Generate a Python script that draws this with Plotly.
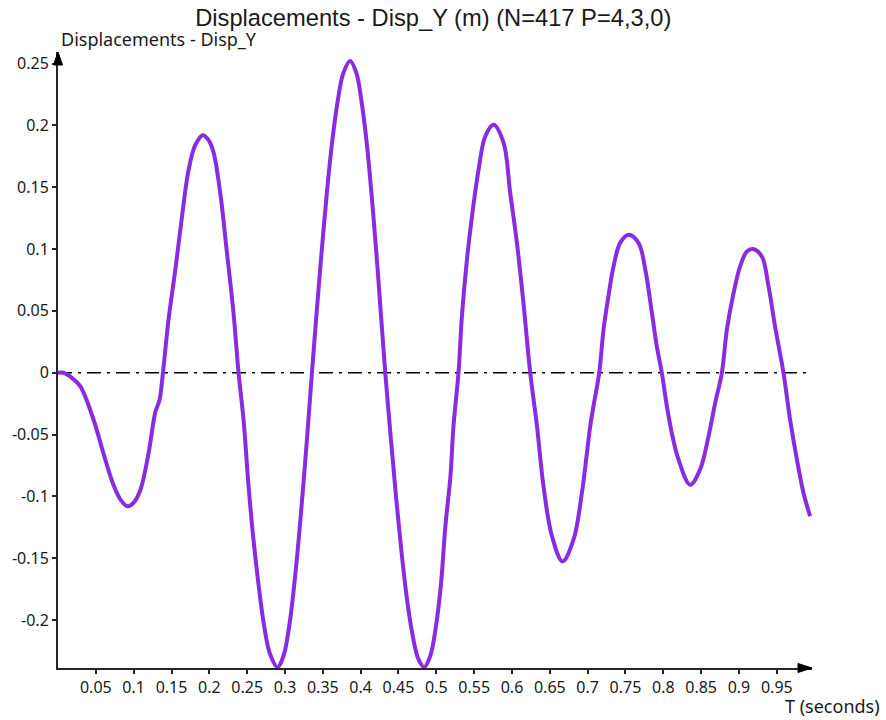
import plotly.graph_objects as go

# Time samples (s) and vertical displacement (m)
t_s = [
    0.000, 0.007, 0.018, 0.0295, 0.047, 0.060, 0.0735, 0.083, 0.092, 0.100,
    0.1087, 0.1197, 0.1286, 0.1342, 0.1387, 0.1461, 0.155, 0.1638, 0.1726, 0.1814,
    0.1916, 0.199, 0.2056, 0.2145, 0.2233, 0.232, 0.2386, 0.2452, 0.2519, 0.258,
    0.265, 0.272, 0.280, 0.290, 0.298, 0.306, 0.314, 0.322, 0.329, 0.3356,
    0.342, 0.349, 0.356, 0.363, 0.370, 0.377, 0.386, 0.394, 0.401, 0.408,
    0.415, 0.422, 0.4325, 0.440, 0.447, 0.454, 0.461, 0.468, 0.476, 0.484,
    0.492, 0.499, 0.506, 0.512, 0.5186, 0.5227, 0.5293, 0.5338, 0.5404, 0.547,
    0.5558, 0.5646, 0.5756, 0.5888, 0.5977, 0.6065, 0.6152, 0.6241, 0.633, 0.6417,
    0.6528, 0.6668, 0.6813, 0.6924, 0.699, 0.7034, 0.7077, 0.7153, 0.721, 0.7275,
    0.7342, 0.743, 0.754, 0.7672, 0.776, 0.785, 0.7915, 0.798, 0.8047, 0.8113,
    0.820, 0.8355, 0.8487, 0.8597, 0.8685, 0.8774, 0.884, 0.8927, 0.9015, 0.9104,
    0.9183, 0.9302, 0.939, 0.9478, 0.9588, 0.9676, 0.9765, 0.9852, 0.994,
]
disp_y = [
    0.000, 0.000, -0.004, -0.011, -0.038, -0.065, -0.091, -0.103, -0.108, -0.105,
    -0.095, -0.065, -0.032, -0.022, 0.000, 0.043, 0.083, 0.126, 0.164, 0.184,
    0.192, 0.188, 0.178, 0.145, 0.097, 0.048, 0.000, -0.038, -0.092, -0.133,
    -0.171, -0.203, -0.227, -0.238, -0.229, -0.203, -0.161, -0.107, -0.054, 0.000,
    0.050, 0.102, 0.150, 0.190, 0.221, 0.242, 0.252, 0.243, 0.220, 0.186,
    0.140, 0.087, 0.000, -0.054, -0.102, -0.145, -0.182, -0.210, -0.231, -0.238,
    -0.229, -0.207, -0.172, -0.124, -0.084, -0.043, 0.000, 0.0455, 0.091, 0.126,
    0.164, 0.191, 0.2005, 0.186, 0.145, 0.105, 0.056, 0.000, -0.043, -0.092,
    -0.132, -0.1525, -0.135, -0.097, -0.065, -0.043, -0.027, 0.000, 0.035, 0.062,
    0.086, 0.105, 0.1116, 0.105, 0.084, 0.048, 0.021, 0.000, -0.027, -0.049,
    -0.070, -0.0905, -0.078, -0.0515, -0.0245, 0.000, 0.035, 0.064, 0.086, 0.098,
    0.100, 0.094, 0.070, 0.037, 0.000, -0.038, -0.070, -0.097, -0.116,
]

x_tick_vals = [0.05, 0.1, 0.15, 0.2, 0.25, 0.3, 0.35, 0.4, 0.45, 0.5,
               0.55, 0.6, 0.65, 0.7, 0.75, 0.8, 0.85, 0.9, 0.95]
x_tick_text = ["0.05", "0.1", "0.15", "0.2", "0.25", "0.3", "0.35", "0.4", "0.45", "0.5",
               "0.55", "0.6", "0.65", "0.7", "0.75", "0.8", "0.85", "0.9", "0.95"]
y_tick_vals = [0.25, 0.2, 0.15, 0.1, 0.05, 0, -0.05, -0.1, -0.15, -0.2]
y_tick_text = ["0.25", "0.2", "0.15", "0.1", "0.05", "0", "-0.05", "-0.1", "-0.15", "-0.2"]

X_MAX = 0.9965
Y_MIN, Y_MAX = -0.2387, 0.2593

AXIS_COLOR = "#262626"
TEXT_FONT = "Noto Sans, Open Sans, sans-serif"

fig = go.Figure()
fig.add_trace(go.Scatter(
    x=t_s, y=disp_y, mode="lines",
    line=dict(color="#8A2BE2", width=4, shape="spline", smoothing=1.0),
    hoverinfo="x+y", showlegend=False,
))

# dash-dot zero reference line
fig.add_shape(type="line", xref="x", yref="y", x0=0, x1=X_MAX, y0=0, y1=0,
              line=dict(color="black", width=1.5, dash="14px,6px,3px,6px"), layer="below")

# arrow heads at the axis ends (paper coords; plot area is 754 x 616 px)
pw, ph = 754.0, 616.0
fig.add_shape(type="path", xref="paper", yref="paper",
              path=f"M {-4.5/pw} {1-13/ph} L 0 1 L {4.5/pw} {1-13/ph} Z",
              fillcolor="black", line=dict(color="black", width=1))
fig.add_shape(type="path", xref="paper", yref="paper",
              path=f"M {1-14/pw} {4.5/ph} L 1 0 L {1-14/pw} {-4.5/ph} Z",
              fillcolor="black", line=dict(color="black", width=1))

fig.update_layout(
    width=886, height=720,
    margin=dict(l=58, r=74, t=52, b=52),
    paper_bgcolor="white", plot_bgcolor="white",
    title=dict(text="Displacements - Disp_Y (m) (N=417 P=4,3,0)",
               x=0.489, xanchor="center", y=0.975, yanchor="middle",
               font=dict(family="Liberation Sans, Arial, sans-serif", size=23.7, color="#1a1a1a")),
    xaxis=dict(range=[0, X_MAX], showgrid=False, zeroline=False,
               showline=True, linecolor=AXIS_COLOR, linewidth=2,
               ticks="outside", ticklen=4, tickwidth=1.5, tickcolor=AXIS_COLOR,
               tickvals=x_tick_vals, ticktext=x_tick_text,
               tickfont=dict(family=TEXT_FONT, size=16, color="#1a1a1a")),
    yaxis=dict(range=[Y_MIN, Y_MAX], showgrid=False, zeroline=False,
               showline=True, linecolor=AXIS_COLOR, linewidth=2,
               ticks="outside", ticklen=4, tickwidth=1.5, tickcolor=AXIS_COLOR,
               tickvals=y_tick_vals, ticktext=y_tick_text,
               tickfont=dict(family=TEXT_FONT, size=16, color="#1a1a1a")),
    annotations=[
        dict(text="Displacements - Disp_Y", xref="paper", yref="paper",
             x=0, y=1, xanchor="left", yanchor="bottom", xshift=1, yshift=-1,
             showarrow=False, font=dict(family=TEXT_FONT, size=18, color="#1a1a1a")),
        dict(text="T (seconds)", xref="paper", yref="paper",
             x=1, y=0, xanchor="left", yanchor="top", xshift=-29, yshift=-24,
             showarrow=False, font=dict(family=TEXT_FONT, size=18, color="#1a1a1a")),
    ],
)

fig.write_html("out.html")
